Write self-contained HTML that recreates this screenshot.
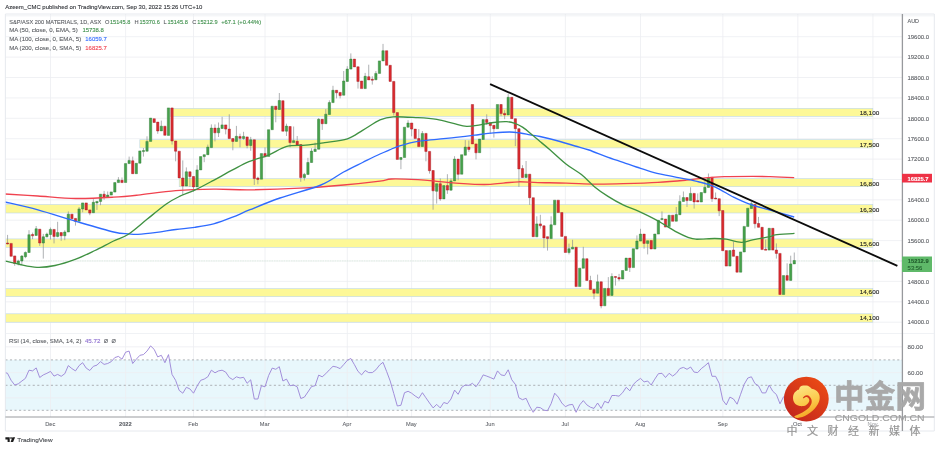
<!DOCTYPE html><html><head><meta charset="utf-8"><title>chart</title><style>html,body{margin:0;padding:0;background:#fff}body{width:940px;height:449px;overflow:hidden}</style></head><body><svg width="940" height="449" viewBox="0 0 940 449" style="display:block;will-change:transform;filter:blur(0.3px);font-family:'Liberation Sans',sans-serif">
<rect width="940" height="449" fill="#fff"/>
<rect x="5.4" y="359.9" width="897.1" height="50.4" fill="#e8f7fc"/>
<path d="M5.4 322.2H902.5M5.4 301.8H902.5M5.4 281.4H902.5M5.4 261.0H902.5M5.4 240.6H902.5M5.4 220.2H902.5M5.4 199.8H902.5M5.4 179.5H902.5M5.4 159.1H902.5M5.4 138.7H902.5M5.4 118.3H902.5M5.4 97.9H902.5M5.4 77.5H902.5M5.4 57.1H902.5M5.4 36.7H902.5M5.4 346.8H902.5M5.4 372.6H902.5M5.4 397.8H902.5M50.5 14.0V417.0M125.6 14.0V417.0M193.5 14.0V417.0M265.0 14.0V417.0M347.3 14.0V417.0M411.6 14.0V417.0M490.3 14.0V417.0M565.4 14.0V417.0M640.5 14.0V417.0M722.8 14.0V417.0M797.8 14.0V417.0M872.9 14.0V417.0" stroke="#ecedf1" stroke-width="0.8" fill="none"/>
<rect x="170.5" y="108.3" width="702.3" height="8.1" fill="#fdf897" stroke="#bdd7ee" stroke-width="0.6"/>
<rect x="139.8" y="139.7" width="733.0" height="8.2" fill="#fdf897" stroke="#bdd7ee" stroke-width="0.6"/>
<rect x="179.2" y="178.6" width="693.6" height="8.1" fill="#fdf897" stroke="#bdd7ee" stroke-width="0.6"/>
<rect x="5.4" y="204.5" width="867.4" height="8.5" fill="#fdf897" stroke="#bdd7ee" stroke-width="0.6"/>
<rect x="5.4" y="238.9" width="867.4" height="8.5" fill="#fdf897" stroke="#bdd7ee" stroke-width="0.6"/>
<rect x="5.4" y="288.6" width="867.4" height="8.1" fill="#fdf897" stroke="#bdd7ee" stroke-width="0.6"/>
<rect x="5.4" y="313.8" width="867.4" height="8.4" fill="#fdf897" stroke="#bdd7ee" stroke-width="0.6"/>
<path d="M5.4 260.9H902.5" stroke="#a9d9af" stroke-width="0.55" stroke-dasharray="0.7 1.0" stroke-opacity="0.8" fill="none"/>
<path d="M7.55 234.9V244.4M14.70 255.9V265.8M18.28 259.7V265.4M21.85 255.0V264.6M25.43 251.4V258.2M29.01 230.2V252.5M32.58 232.6V239.2M36.16 226.0V235.5M39.73 229.2V245.9M43.31 233.9V258.6M46.89 232.6V237.3M50.46 227.5V239.6M54.04 229.4V243.4M57.61 221.8V237.3M61.19 232.6V240.8M64.77 230.2V240.2M68.34 211.4V232.0M75.49 218.4V225.6M79.07 207.0V221.2M82.65 202.9V212.3M89.80 209.9V215.2M93.37 199.1V212.7M96.95 201.4V209.9M100.53 194.2V205.2M104.10 190.9V199.8M107.68 191.5V197.2M118.41 177.1V182.6M121.98 177.5V182.6M129.13 156.6V163.6M132.71 156.6V173.7M143.44 148.0V156.6M147.01 136.3V151.2M157.74 122.1V133.8M161.32 120.6V131.0M172.05 107.9V144.6M175.62 141.0V161.3M182.77 160.4V195.5M186.35 167.4V186.0M189.93 171.8V186.9M193.50 176.5V191.7M197.08 165.2V186.9M204.23 154.7V162.2M207.81 144.6V154.7M211.38 124.4V147.7M214.96 124.4V141.4M218.53 122.5V137.0M222.11 116.8V128.5M225.69 124.9V134.4M229.26 114.3V138.6M232.84 138.6V150.3M236.41 125.9V141.4M239.99 133.7V147.3M243.57 131.8V139.8M247.14 136.9V148.3M250.72 136.9V150.8M254.29 139.8V185.0M257.87 176.7V184.3M265.02 147.3V156.8M275.75 106.2V122.3M279.33 93.0V109.5M286.48 123.7V136.0M290.05 126.5V147.3M293.63 126.5V142.6M297.21 136.0V144.9M300.78 144.5V181.8M304.36 172.9V180.5M307.93 157.8V174.4M311.51 148.3V162.5M315.09 142.6V151.5M318.66 118.0V149.2M322.24 119.3V129.9M325.81 109.1V123.7M329.39 100.3V114.5M332.97 85.8V102.6M336.54 90.3V98.4M340.12 92.4V98.4M343.69 71.0V95.2M347.27 66.2V81.4M350.85 53.4V69.1M358.00 66.8V88.6M365.15 72.9V88.6M368.73 64.7V79.9M372.30 76.3V84.6M375.88 71.0V79.9M383.03 43.9V60.9M393.76 81.4V115.5M400.91 157.5V169.2M408.06 120.2V127.2M411.64 123.0V136.3M418.79 129.1V146.5M422.37 131.0V146.5M425.94 133.4V161.3M429.52 151.4V173.6M433.09 170.5V209.7M436.67 183.7V203.6M440.25 178.4V200.8M447.40 174.2V193.9M450.97 178.4V190.2M454.55 156.2V180.9M458.13 159.1V180.3M465.28 140.1V155.2M468.85 140.5V151.8M476.01 143.9V159.4M486.73 114.3V124.9M490.31 122.8V133.8M493.89 125.3V137.6M501.04 104.5V116.2M504.61 110.2V119.2M508.19 94.1V114.9M515.34 118.7V146.1M518.92 128.7V186.9M522.49 165.2V177.5M526.07 161.0V177.5M529.65 174.2V204.9M536.80 216.3V236.7M540.37 214.8V228.6M543.95 225.8V248.1M547.53 236.7V250.6M551.10 216.3V238.6M568.98 243.6V254.4M572.56 239.8V249.1M583.29 246.8V268.2M590.44 275.8V289.4M594.01 289.4V299.2M597.59 274.6V293.2M601.17 281.8V308.3M608.32 277.1V295.5M611.89 273.3V295.5M615.47 276.5V285.6M619.05 273.9V281.2M629.77 258.1V272.0M636.93 235.4V249.1M640.50 228.8V241.1M644.08 234.1V248.7M647.65 240.7V254.4M661.96 211.4V220.3M676.26 207.0V221.2M679.84 195.3V214.6M683.41 191.5V201.4M686.99 197.6V207.0M690.57 187.3V200.6M694.14 193.4V208.6M697.72 193.4V201.9M704.87 181.1V192.8M708.45 173.5V187.3M712.02 177.3V201.9M715.60 192.5V199.1M719.17 198.7V216.1M733.48 241.5V256.3M751.36 201.9V208.6M754.93 204.4V228.4M758.51 216.9V227.3M765.66 239.6V250.0M776.39 243.4V258.6M787.12 263.3V280.3M790.69 255.7V280.3M794.27 252.5V263.9" stroke="#8d8f93" stroke-width="0.7" fill="none"/>
<path d="M17.13 261.0h2.3v2.8h-2.3zM20.70 256.1h2.3v4.9h-2.3zM24.28 252.5h2.3v4.2h-2.3zM27.86 234.7h2.3v17.8h-2.3zM35.01 228.8h2.3v6.6h-2.3zM42.16 236.8h2.3v6.2h-2.3zM45.74 234.1h2.3v2.7h-2.3zM49.31 229.4h2.3v5.1h-2.3zM56.46 232.6h2.3v3.8h-2.3zM63.62 232.0h2.3v3.8h-2.3zM67.19 214.2h2.3v17.8h-2.3zM77.92 208.9h2.3v12.3h-2.3zM81.50 202.9h2.3v6.1h-2.3zM92.22 202.3h2.3v10.4h-2.3zM95.80 201.4h2.3v1.5h-2.3zM99.38 194.2h2.3v7.2h-2.3zM106.53 195.1h2.3v2.1h-2.3zM110.10 191.9h2.3v3.2h-2.3zM113.68 182.6h2.3v9.5h-2.3zM117.26 179.9h2.3v2.7h-2.3zM124.41 163.6h2.3v18.9h-2.3zM127.98 160.4h2.3v3.2h-2.3zM135.14 163.3h2.3v10.4h-2.3zM138.71 150.9h2.3v12.3h-2.3zM142.29 150.5h2.3v1.1h-2.3zM145.86 141.4h2.3v9.8h-2.3zM149.44 118.1h2.3v23.3h-2.3zM160.17 126.2h2.3v4.7h-2.3zM167.32 107.9h2.3v27.5h-2.3zM185.20 171.8h2.3v14.2h-2.3zM195.93 169.9h2.3v17.0h-2.3zM199.50 156.6h2.3v13.3h-2.3zM203.08 154.7h2.3v1.9h-2.3zM206.66 147.1h2.3v7.6h-2.3zM210.23 128.1h2.3v19.5h-2.3zM217.38 128.1h2.3v4.7h-2.3zM220.96 124.9h2.3v3.6h-2.3zM235.26 136.3h2.3v5.1h-2.3zM242.42 136.4h2.3v2.1h-2.3zM249.57 139.8h2.3v5.7h-2.3zM260.30 153.6h2.3v25.6h-2.3zM267.45 129.7h2.3v26.7h-2.3zM271.02 106.2h2.3v23.5h-2.3zM278.18 100.5h2.3v9.0h-2.3zM285.33 126.1h2.3v5.1h-2.3zM292.48 140.7h2.3v1.9h-2.3zM303.21 174.4h2.3v3.2h-2.3zM306.78 162.5h2.3v11.9h-2.3zM310.36 151.1h2.3v11.4h-2.3zM313.94 149.2h2.3v2.3h-2.3zM317.51 119.3h2.3v29.9h-2.3zM324.66 114.2h2.3v9.5h-2.3zM328.24 102.6h2.3v11.9h-2.3zM331.82 90.3h2.3v12.3h-2.3zM342.54 81.0h2.3v14.2h-2.3zM346.12 69.1h2.3v12.3h-2.3zM349.70 59.1h2.3v10.0h-2.3zM364.00 76.3h2.3v12.3h-2.3zM374.73 73.4h2.3v6.4h-2.3zM378.30 60.9h2.3v12.5h-2.3zM381.88 50.7h2.3v10.2h-2.3zM399.76 157.5h2.3v1.9h-2.3zM403.34 127.2h2.3v30.3h-2.3zM406.91 123.0h2.3v4.2h-2.3zM421.22 133.4h2.3v13.1h-2.3zM435.52 183.7h2.3v7.6h-2.3zM442.67 185.6h2.3v13.3h-2.3zM449.82 180.9h2.3v9.3h-2.3zM453.40 159.1h2.3v21.8h-2.3zM460.55 154.7h2.3v19.5h-2.3zM464.13 147.1h2.3v8.1h-2.3zM478.43 139.1h2.3v13.6h-2.3zM482.01 119.6h2.3v19.9h-2.3zM496.31 104.5h2.3v24.2h-2.3zM507.04 97.3h2.3v17.6h-2.3zM524.92 174.2h2.3v3.2h-2.3zM535.65 223.9h2.3v12.9h-2.3zM549.95 224.8h2.3v13.8h-2.3zM553.53 200.2h2.3v24.6h-2.3zM567.83 248.7h2.3v3.8h-2.3zM571.41 247.2h2.3v1.9h-2.3zM578.56 268.2h2.3v18.4h-2.3zM582.14 258.7h2.3v9.5h-2.3zM596.44 281.8h2.3v11.4h-2.3zM603.59 288.4h2.3v17.4h-2.3zM610.74 276.5h2.3v18.9h-2.3zM621.47 270.5h2.3v8.5h-2.3zM625.05 258.1h2.3v12.3h-2.3zM632.20 248.7h2.3v18.9h-2.3zM635.78 241.1h2.3v8.0h-2.3zM639.35 234.1h2.3v7.0h-2.3zM646.50 240.7h2.3v2.7h-2.3zM653.66 234.0h2.3v15.0h-2.3zM657.23 220.3h2.3v13.8h-2.3zM660.81 218.6h2.3v0.9h-2.3zM667.96 215.2h2.3v11.4h-2.3zM675.11 214.6h2.3v6.6h-2.3zM678.69 201.4h2.3v13.3h-2.3zM682.26 197.6h2.3v3.8h-2.3zM689.42 193.4h2.3v7.2h-2.3zM700.14 192.5h2.3v9.5h-2.3zM703.72 187.3h2.3v5.5h-2.3zM707.30 177.9h2.3v9.5h-2.3zM728.75 250.6h2.3v15.5h-2.3zM739.48 251.9h2.3v20.3h-2.3zM743.06 226.4h2.3v25.6h-2.3zM746.63 208.2h2.3v18.4h-2.3zM750.21 203.8h2.3v4.7h-2.3zM768.09 228.3h2.3v21.8h-2.3zM782.39 275.6h2.3v18.9h-2.3zM789.54 263.9h2.3v16.5h-2.3zM793.12 260.5h2.3v3.4h-2.3z" fill="#46a24b" stroke="#2f7a36" stroke-width="0.45"/>
<path d="M6.40 243.0h2.3v0.9h-2.3zM9.98 243.4h2.3v12.9h-2.3zM13.55 255.9h2.3v7.6h-2.3zM31.43 234.5h2.3v1.3h-2.3zM38.58 229.2h2.3v13.8h-2.3zM52.89 229.4h2.3v7.0h-2.3zM60.04 232.6h2.3v3.2h-2.3zM70.77 214.2h2.3v4.5h-2.3zM74.34 218.4h2.3v2.8h-2.3zM85.07 202.9h2.3v7.0h-2.3zM88.65 209.9h2.3v3.2h-2.3zM102.95 194.2h2.3v3.0h-2.3zM120.83 180.3h2.3v2.3h-2.3zM131.56 160.8h2.3v12.9h-2.3zM153.02 118.7h2.3v3.8h-2.3zM156.59 122.1h2.3v8.9h-2.3zM163.74 126.2h2.3v9.1h-2.3zM170.90 107.9h2.3v33.1h-2.3zM174.47 141.0h2.3v10.2h-2.3zM178.05 151.2h2.3v26.7h-2.3zM181.62 178.0h2.3v8.0h-2.3zM188.78 171.8h2.3v4.7h-2.3zM192.35 176.5h2.3v10.4h-2.3zM213.81 128.1h2.3v4.7h-2.3zM224.54 124.9h2.3v4.2h-2.3zM228.11 129.1h2.3v9.5h-2.3zM231.69 138.6h2.3v2.8h-2.3zM238.84 136.6h2.3v1.7h-2.3zM245.99 136.9h2.3v8.5h-2.3zM253.14 139.8h2.3v38.8h-2.3zM256.72 178.0h2.3v1.5h-2.3zM263.87 153.6h2.3v3.2h-2.3zM274.60 106.2h2.3v3.2h-2.3zM281.75 100.7h2.3v30.5h-2.3zM288.90 126.5h2.3v16.1h-2.3zM296.06 141.3h2.3v3.6h-2.3zM299.63 144.5h2.3v33.1h-2.3zM321.09 119.3h2.3v4.4h-2.3zM335.39 90.3h2.3v2.5h-2.3zM338.97 92.4h2.3v3.2h-2.3zM353.27 59.1h2.3v7.8h-2.3zM356.85 66.8h2.3v14.6h-2.3zM360.42 81.0h2.3v7.6h-2.3zM367.58 76.7h2.3v3.2h-2.3zM371.15 79.3h2.3v0.9h-2.3zM385.46 50.7h2.3v14.6h-2.3zM389.03 65.3h2.3v16.1h-2.3zM392.61 81.4h2.3v31.2h-2.3zM396.18 112.6h2.3v46.8h-2.3zM410.49 123.0h2.3v6.1h-2.3zM414.06 129.1h2.3v9.5h-2.3zM417.64 138.6h2.3v8.0h-2.3zM424.79 133.4h2.3v18.0h-2.3zM428.37 151.4h2.3v19.3h-2.3zM431.94 170.5h2.3v20.3h-2.3zM439.10 183.7h2.3v15.2h-2.3zM446.25 185.6h2.3v4.5h-2.3zM456.98 159.1h2.3v15.2h-2.3zM467.70 147.1h2.3v2.3h-2.3zM471.28 104.5h2.3v39.4h-2.3zM474.86 143.9h2.3v8.9h-2.3zM485.58 119.6h2.3v2.8h-2.3zM489.16 122.8h2.3v2.8h-2.3zM492.74 125.3h2.3v3.4h-2.3zM499.89 104.5h2.3v9.1h-2.3zM503.46 113.4h2.3v1.5h-2.3zM510.62 97.3h2.3v21.4h-2.3zM514.19 118.7h2.3v10.0h-2.3zM517.77 128.7h2.3v40.2h-2.3zM521.34 168.6h2.3v8.9h-2.3zM528.50 174.2h2.3v23.5h-2.3zM532.07 197.7h2.3v39.0h-2.3zM539.22 223.9h2.3v1.9h-2.3zM542.80 225.8h2.3v12.1h-2.3zM546.38 236.7h2.3v1.9h-2.3zM557.10 200.2h2.3v12.3h-2.3zM560.68 212.5h2.3v23.9h-2.3zM564.26 236.4h2.3v16.1h-2.3zM574.98 247.2h2.3v39.4h-2.3zM585.71 258.7h2.3v21.8h-2.3zM589.29 280.5h2.3v8.9h-2.3zM592.86 289.4h2.3v3.8h-2.3zM600.02 281.8h2.3v24.1h-2.3zM607.17 288.4h2.3v7.0h-2.3zM614.32 276.5h2.3v0.9h-2.3zM617.90 277.5h2.3v1.5h-2.3zM628.62 258.1h2.3v9.5h-2.3zM642.93 234.1h2.3v9.3h-2.3zM650.08 240.5h2.3v8.5h-2.3zM664.38 219.0h2.3v8.1h-2.3zM671.54 215.2h2.3v6.1h-2.3zM685.84 197.6h2.3v3.0h-2.3zM692.99 193.4h2.3v8.5h-2.3zM696.57 200.6h2.3v1.3h-2.3zM710.87 177.3h2.3v21.4h-2.3zM714.45 198.1h2.3v0.9h-2.3zM718.02 198.7h2.3v12.1h-2.3zM721.60 210.5h2.3v40.2h-2.3zM725.18 250.6h2.3v15.5h-2.3zM732.33 250.0h2.3v6.3h-2.3zM735.90 256.3h2.3v15.9h-2.3zM753.78 204.4h2.3v19.3h-2.3zM757.36 223.5h2.3v3.8h-2.3zM760.94 227.3h2.3v22.3h-2.3zM764.51 249.3h2.3v0.9h-2.3zM771.66 228.3h2.3v21.8h-2.3zM775.24 250.0h2.3v3.4h-2.3zM778.82 253.4h2.3v41.1h-2.3zM785.97 275.6h2.3v4.7h-2.3z" fill="#dc2a2f" stroke="#a31d24" stroke-width="0.45"/>
<path d="M5.0 194.0C10.5 194.3 26.1 195.2 37.9 196.0C49.7 196.8 63.2 198.3 75.8 198.5C88.4 198.7 103.2 197.8 113.6 197.2C123.9 196.6 127.5 196.2 137.9 195.1C148.3 194.0 163.2 191.7 175.8 190.7C188.4 189.7 201.2 189.3 213.6 189.2C226.0 189.0 235.6 190.0 250.0 189.8C264.4 189.6 284.4 189.0 300.0 188.2C315.6 187.4 330.3 186.2 343.6 185.0C356.9 183.8 372.0 182.1 380.0 181.1C388.0 180.1 385.1 179.2 391.4 179.0C397.7 178.8 410.3 179.3 417.9 179.7C425.5 180.1 430.5 180.7 436.8 181.3C443.1 181.9 447.9 182.6 455.8 183.1C463.7 183.6 476.3 184.5 484.2 184.5C492.1 184.5 497.3 183.5 503.1 183.1C508.9 182.7 513.1 181.9 518.9 181.8C524.7 181.7 530.0 182.4 537.9 182.6C545.8 182.8 556.8 182.8 566.3 183.1C575.8 183.3 585.2 184.0 594.7 184.1C604.2 184.2 612.6 184.0 623.1 183.7C633.6 183.4 647.4 183.0 657.9 182.4C668.4 181.8 678.4 180.9 686.3 180.2C694.2 179.4 698.9 178.5 705.2 177.9C711.5 177.3 716.3 176.9 724.2 176.7C732.1 176.4 745.0 176.4 752.6 176.4C760.2 176.4 763.1 176.5 770.0 176.7C776.9 176.9 790.2 177.5 794.2 177.7" stroke="#f0424f" stroke-width="1.35" fill="none"/>
<path d="M5.0 202.0C10.5 203.3 26.1 206.7 37.9 209.9C49.7 213.1 63.2 217.6 75.8 221.3C88.4 225.0 104.8 229.9 113.6 232.0C122.4 234.1 124.4 233.4 128.4 233.8C132.5 234.2 133.2 234.5 137.9 234.3C142.6 234.1 150.5 233.2 156.8 232.4C163.1 231.6 169.5 230.3 175.8 229.5C182.1 228.7 188.4 228.2 194.7 227.3C201.0 226.4 207.3 225.6 213.6 223.9C219.9 222.2 226.5 219.6 232.6 217.2C238.7 214.8 242.1 212.9 250.0 209.7C257.9 206.5 268.2 202.1 280.0 198.0C291.8 193.9 310.3 189.3 320.9 185.0C331.5 180.7 336.7 175.8 343.6 172.0C350.6 168.2 356.5 165.5 362.6 162.5C368.7 159.5 375.5 156.1 380.0 154.0C384.5 151.9 386.4 151.2 389.5 149.9C392.6 148.6 394.2 147.5 398.9 146.1C403.6 144.7 411.6 142.5 417.9 141.4C424.2 140.3 430.5 140.0 436.8 139.3C443.1 138.6 449.5 138.1 455.8 137.4C462.1 136.7 468.4 135.9 474.7 135.2C481.0 134.4 487.8 133.4 493.6 132.9C499.4 132.4 505.1 132.0 509.5 132.0C513.9 132.0 516.8 132.5 520.2 133.0C523.6 133.5 526.7 134.2 530.0 134.8C533.3 135.4 535.0 135.4 540.0 136.5C545.0 137.6 554.2 139.9 560.0 141.5C565.8 143.1 570.2 144.6 575.0 146.0C579.8 147.4 583.8 148.2 589.0 150.0C594.2 151.8 600.4 154.5 606.1 156.6C611.8 158.7 618.1 160.6 623.1 162.3C628.1 164.0 631.2 165.3 636.4 167.0C641.6 168.7 647.4 170.9 654.1 172.6C660.8 174.3 669.8 175.9 676.8 177.3C683.8 178.7 689.5 179.5 695.8 181.1C702.1 182.7 708.4 184.1 714.7 186.8C721.0 189.5 727.9 194.4 733.6 197.2C739.3 200.0 742.7 201.7 748.8 203.8C754.9 206.0 762.4 207.9 770.0 210.1C777.6 212.3 790.2 215.8 794.2 217.0" stroke="#2f6bff" stroke-width="1.35" fill="none"/>
<path d="M5.0 261.0C7.5 261.6 14.7 263.4 20.0 264.5C25.3 265.6 31.2 267.1 37.0 267.3C42.8 267.5 48.5 266.9 55.0 265.5C61.5 264.1 69.1 261.6 75.8 259.1C82.5 256.6 88.7 253.5 95.0 250.5C101.3 247.5 108.0 243.7 113.6 241.0C119.2 238.3 122.8 238.0 128.4 234.3C134.0 230.7 141.0 224.2 147.3 219.1C153.6 214.0 160.9 207.8 166.3 204.0C171.7 200.2 174.8 198.7 179.5 196.4C184.2 194.1 189.0 192.9 194.7 190.2C200.4 187.5 207.3 183.7 213.6 180.3C219.9 176.9 226.7 173.0 232.6 169.9C238.5 166.8 243.0 164.0 248.9 161.6C254.8 159.2 261.6 157.8 267.9 155.3C274.2 152.8 280.5 148.1 286.8 146.4C293.1 144.7 299.5 145.7 305.8 145.1C312.1 144.5 317.8 143.6 324.7 142.6C331.6 141.6 341.1 140.9 347.4 138.8C353.7 136.8 357.2 133.5 362.6 130.3C368.0 127.2 374.9 122.2 380.0 119.9C385.1 117.7 387.0 117.2 393.3 116.8C399.6 116.4 410.6 117.3 417.9 117.7C425.1 118.1 430.9 118.5 436.8 119.4C442.7 120.4 448.4 122.2 453.4 123.4C458.4 124.6 462.2 126.2 466.7 126.4C471.1 126.6 475.6 125.5 480.1 124.8C484.6 124.1 489.1 123.0 493.5 122.5C497.9 122.0 503.2 121.5 506.8 121.7C510.4 121.9 512.2 122.5 514.9 123.4C517.6 124.4 519.8 125.3 522.9 127.4C526.0 129.5 530.8 133.8 533.6 136.1C536.5 138.4 537.2 139.2 540.0 141.5C542.8 143.8 545.8 146.2 550.2 150.0C554.6 153.8 561.1 160.1 566.3 164.2C571.5 168.3 576.7 170.8 581.4 174.6C586.1 178.4 590.3 183.3 594.7 186.9C599.1 190.5 603.3 193.4 608.0 196.4C612.7 199.4 618.0 202.4 623.1 204.9C628.2 207.4 633.1 208.7 638.9 211.4C644.7 214.1 651.6 217.4 657.9 220.9C664.2 224.4 671.8 229.5 676.8 232.2C681.8 234.9 684.8 236.1 688.0 237.3C691.2 238.5 691.3 239.0 695.8 239.2C700.2 239.4 709.7 238.5 714.7 238.5C719.8 238.5 721.7 238.6 726.1 239.2C730.5 239.8 736.8 242.2 741.2 242.3C745.6 242.4 747.8 240.8 752.6 239.8C757.4 238.9 766.2 237.4 770.0 236.6C773.8 235.8 771.1 235.4 775.2 234.9C779.3 234.4 791.3 233.7 794.5 233.4" stroke="#3f9142" stroke-width="1.35" fill="none"/>
<path d="M490.1 84.1L897.4 265.8" stroke="#0b0b0b" stroke-width="1.85" fill="none"/>
<path d="M5.4 359.9H902.5M5.4 385.3H902.5M5.4 410.3H902.5" stroke="#9d9fa3" stroke-width="0.8" stroke-dasharray="2.1 2.45" fill="none"/>
<path d="M5.4 372.7L7.5 373.3L11.1 380.3L14.7 385.0L18.3 383.8L21.9 381.0L25.4 378.4L29.0 370.2L32.6 370.9L36.2 367.9L39.7 377.5L43.3 374.9L46.9 373.3L50.5 371.4L54.0 376.1L57.6 374.4L61.2 376.3L64.8 373.7L68.3 365.6L71.9 368.6L75.5 370.9L79.1 365.6L82.6 362.7L86.2 368.1L89.8 370.5L93.4 366.3L97.0 365.1L100.5 361.6L104.1 364.4L107.7 363.5L111.3 361.6L114.8 357.6L118.4 356.4L122.0 359.2L125.6 352.2L129.1 351.1L132.7 363.5L136.3 359.2L139.9 355.3L143.4 354.6L147.0 351.1L150.6 345.9L154.2 349.4L157.7 356.9L161.3 355.3L164.9 362.7L168.5 354.6L172.0 374.4L175.6 380.3L179.2 390.4L182.8 393.2L186.4 387.3L189.9 388.9L193.5 393.2L197.1 386.1L200.7 380.3L204.2 379.1L207.8 376.8L211.4 370.2L215.0 372.8L218.5 370.9L222.1 370.2L225.7 372.1L229.3 377.5L232.8 379.6L236.4 376.8L240.0 378.0L243.6 377.3L247.1 383.3L250.7 379.8L254.3 399.0L257.9 399.0L261.4 385.7L265.0 386.8L268.6 375.6L272.2 368.1L275.8 369.3L279.3 366.7L282.9 381.0L286.5 379.1L290.1 385.7L293.6 385.0L297.2 386.8L300.8 398.5L304.4 397.1L307.9 392.0L311.5 386.6L315.1 385.7L318.7 375.1L322.2 376.8L325.8 373.7L329.4 369.8L333.0 366.3L336.5 367.0L340.1 368.6L343.7 364.6L347.3 360.4L350.8 358.5L354.4 364.6L358.0 371.4L361.6 374.9L365.2 370.5L368.7 372.6L372.3 372.6L375.9 369.8L379.5 365.1L383.0 362.3L386.6 371.4L390.2 381.0L393.8 393.6L397.3 406.0L400.9 405.3L404.5 392.7L408.1 391.3L411.6 393.2L415.2 396.0L418.8 398.3L422.4 392.7L425.9 397.8L429.5 403.0L433.1 407.9L436.7 404.4L440.2 407.9L443.8 402.5L447.4 403.7L451.0 399.0L454.6 390.1L458.1 394.3L461.7 387.3L465.3 385.0L468.9 385.4L472.4 383.3L476.0 386.8L479.6 381.5L483.2 374.9L486.7 376.1L490.3 377.5L493.9 379.1L497.5 370.9L501.0 374.9L504.6 375.6L508.2 369.8L511.8 379.8L515.3 384.3L518.9 397.8L522.5 399.7L526.1 398.3L529.6 406.0L533.2 412.3L536.8 407.2L540.4 407.7L543.9 410.2L547.5 410.7L551.1 403.7L554.7 393.2L558.3 397.1L561.8 403.0L565.4 406.7L569.0 404.9L572.6 404.4L576.1 412.3L579.7 404.9L583.3 400.6L586.9 404.9L590.4 407.2L594.0 408.4L597.6 403.0L601.2 408.4L604.7 401.3L608.3 403.0L611.9 395.5L615.5 395.5L619.0 396.2L622.6 392.7L626.2 387.3L629.8 390.8L633.4 384.3L636.9 381.0L640.5 378.4L644.1 381.9L647.7 381.0L651.2 385.0L654.8 379.1L658.4 373.7L662.0 373.3L665.5 377.5L669.1 373.3L672.7 376.1L676.3 373.3L679.8 368.6L683.4 367.4L687.0 369.3L690.6 367.0L694.1 372.1L697.7 372.6L701.3 368.6L704.9 365.8L708.4 362.7L712.0 376.3L715.6 376.3L719.2 383.3L722.8 400.2L726.3 404.9L729.9 397.1L733.5 399.0L737.1 404.2L740.6 394.3L744.2 384.3L747.8 378.0L751.4 376.8L754.9 383.5L758.5 385.9L762.1 392.9L765.7 392.9L769.2 385.1L772.8 391.3L776.4 394.5L780.0 403.8L783.5 396.8L787.1 397.5L790.7 393.5L794.3 390.7" stroke="#9a82d6" stroke-width="0.9" stroke-linejoin="round" fill="none"/>
<path d="M5.4 14.0H934.3V431.0H5.4Z" stroke="#e3e6ec" stroke-width="0.9" fill="none"/>
<path d="M5.4 15.8H934.3M5.4 333.5H934.3" stroke="#eceff3" stroke-width="0.8" fill="none"/>
<path d="M902.4 14.0V431.0" stroke="#97999d" stroke-width="1.3" fill="none"/>
<path d="M5.4 417.0H934.3" stroke="#9a9ca0" stroke-width="1.2" fill="none"/>
<text x="5.3" y="9.1" font-size="5.80" fill="#303338" stroke="#303338" stroke-width="0.10" textLength="197.0" lengthAdjust="spacingAndGlyphs">Azeem_CMC published on TradingView.com, Sep 30, 2022 15:26 UTC+10</text>
<text x="9.2" y="24.0" font-size="5.70" fill="#5c5f64" stroke="#5c5f64" stroke-width="0.10" textLength="92.1" lengthAdjust="spacingAndGlyphs">S&amp;P/ASX 200 MATERIALS, 1D, ASX</text>
<text x="105.0" y="24.0" font-size="5.70" fill="#5c5f64" stroke="#5c5f64" stroke-width="0.10">O</text>
<text x="110.0" y="24.0" font-size="5.70" fill="#3d8f4a" stroke="#3d8f4a" stroke-width="0.10" textLength="20.3" lengthAdjust="spacingAndGlyphs">15145.8</text>
<text x="134.5" y="24.0" font-size="5.70" fill="#5c5f64" stroke="#5c5f64" stroke-width="0.10">H</text>
<text x="139.5" y="24.0" font-size="5.70" fill="#3d8f4a" stroke="#3d8f4a" stroke-width="0.10" textLength="20.3" lengthAdjust="spacingAndGlyphs">15370.6</text>
<text x="163.5" y="24.0" font-size="5.70" fill="#5c5f64" stroke="#5c5f64" stroke-width="0.10">L</text>
<text x="167.5" y="24.0" font-size="5.70" fill="#3d8f4a" stroke="#3d8f4a" stroke-width="0.10" textLength="20.3" lengthAdjust="spacingAndGlyphs">15145.8</text>
<text x="192.3" y="24.0" font-size="5.70" fill="#5c5f64" stroke="#5c5f64" stroke-width="0.10">C</text>
<text x="197.3" y="24.0" font-size="5.70" fill="#3d8f4a" stroke="#3d8f4a" stroke-width="0.10" textLength="20.3" lengthAdjust="spacingAndGlyphs">15212.9</text>
<text x="221.2" y="24.0" font-size="5.70" fill="#3d8f4a" stroke="#3d8f4a" stroke-width="0.10" textLength="39.9" lengthAdjust="spacingAndGlyphs">+67.1 (+0.44%)</text>
<text x="9.2" y="32.3" font-size="5.70" fill="#5c5f64" stroke="#5c5f64" stroke-width="0.10" textLength="68.5" lengthAdjust="spacingAndGlyphs">MA (50, close, 0, EMA, 5)</text>
<text x="82.4" y="32.3" font-size="5.70" fill="#3d8f4a" stroke="#3d8f4a" stroke-width="0.10" textLength="21.4" lengthAdjust="spacingAndGlyphs">15738.8</text>
<text x="9.2" y="41.1" font-size="5.70" fill="#5c5f64" stroke="#5c5f64" stroke-width="0.10" textLength="72.0" lengthAdjust="spacingAndGlyphs">MA (100, close, 0, EMA, 5)</text>
<text x="85.3" y="41.1" font-size="5.70" fill="#2f6bff" stroke="#2f6bff" stroke-width="0.10" textLength="21.5" lengthAdjust="spacingAndGlyphs">16059.7</text>
<text x="9.2" y="49.6" font-size="5.70" fill="#5c5f64" stroke="#5c5f64" stroke-width="0.10" textLength="72.0" lengthAdjust="spacingAndGlyphs">MA (200, close, 0, SMA, 5)</text>
<text x="85.3" y="49.6" font-size="5.70" fill="#f0424f" stroke="#f0424f" stroke-width="0.10" textLength="21.5" lengthAdjust="spacingAndGlyphs">16825.7</text>
<text x="8.9" y="343.3" font-size="5.70" fill="#5c5f64" stroke="#5c5f64" stroke-width="0.10" textLength="72.5" lengthAdjust="spacingAndGlyphs">RSI (14, close, SMA, 14, 2)</text>
<text x="84.9" y="343.3" font-size="5.70" fill="#8e6fd0" stroke="#8e6fd0" stroke-width="0.10" textLength="15.5" lengthAdjust="spacingAndGlyphs">45.72</text>
<text x="103.8" y="343.3" font-size="5.60" fill="#5a5d63" stroke="#5a5d63" stroke-width="0.10">&#216;</text>
<text x="111.6" y="343.3" font-size="5.60" fill="#5a5d63" stroke="#5a5d63" stroke-width="0.10">&#216;</text>
<text x="907.5" y="23.0" font-size="5.70" fill="#5c5f64" stroke="#5c5f64" stroke-width="0.10" textLength="11.5" lengthAdjust="spacingAndGlyphs">AUD</text>
<text x="907.5" y="324.4" font-size="5.70" fill="#5c5f64" stroke="#5c5f64" stroke-width="0.10" textLength="21.5" lengthAdjust="spacingAndGlyphs">14000.0</text>
<text x="907.5" y="304.0" font-size="5.70" fill="#5c5f64" stroke="#5c5f64" stroke-width="0.10" textLength="21.5" lengthAdjust="spacingAndGlyphs">14400.0</text>
<text x="907.5" y="283.6" font-size="5.70" fill="#5c5f64" stroke="#5c5f64" stroke-width="0.10" textLength="21.5" lengthAdjust="spacingAndGlyphs">14800.0</text>
<text x="907.5" y="242.8" font-size="5.70" fill="#5c5f64" stroke="#5c5f64" stroke-width="0.10" textLength="21.5" lengthAdjust="spacingAndGlyphs">15600.0</text>
<text x="907.5" y="222.4" font-size="5.70" fill="#5c5f64" stroke="#5c5f64" stroke-width="0.10" textLength="21.5" lengthAdjust="spacingAndGlyphs">16000.0</text>
<text x="907.5" y="202.0" font-size="5.70" fill="#5c5f64" stroke="#5c5f64" stroke-width="0.10" textLength="21.5" lengthAdjust="spacingAndGlyphs">16400.0</text>
<text x="907.5" y="161.3" font-size="5.70" fill="#5c5f64" stroke="#5c5f64" stroke-width="0.10" textLength="21.5" lengthAdjust="spacingAndGlyphs">17200.0</text>
<text x="907.5" y="140.9" font-size="5.70" fill="#5c5f64" stroke="#5c5f64" stroke-width="0.10" textLength="21.5" lengthAdjust="spacingAndGlyphs">17600.0</text>
<text x="907.5" y="120.5" font-size="5.70" fill="#5c5f64" stroke="#5c5f64" stroke-width="0.10" textLength="21.5" lengthAdjust="spacingAndGlyphs">18000.0</text>
<text x="907.5" y="100.1" font-size="5.70" fill="#5c5f64" stroke="#5c5f64" stroke-width="0.10" textLength="21.5" lengthAdjust="spacingAndGlyphs">18400.0</text>
<text x="907.5" y="79.7" font-size="5.70" fill="#5c5f64" stroke="#5c5f64" stroke-width="0.10" textLength="21.5" lengthAdjust="spacingAndGlyphs">18800.0</text>
<text x="907.5" y="59.3" font-size="5.70" fill="#5c5f64" stroke="#5c5f64" stroke-width="0.10" textLength="21.5" lengthAdjust="spacingAndGlyphs">19200.0</text>
<text x="907.5" y="38.9" font-size="5.70" fill="#5c5f64" stroke="#5c5f64" stroke-width="0.10" textLength="21.5" lengthAdjust="spacingAndGlyphs">19600.0</text>
<text x="907.5" y="349.0" font-size="5.70" fill="#5c5f64" stroke="#5c5f64" stroke-width="0.10" textLength="15.5" lengthAdjust="spacingAndGlyphs">80.00</text>
<text x="907.5" y="374.7" font-size="5.70" fill="#5c5f64" stroke="#5c5f64" stroke-width="0.10" textLength="15.5" lengthAdjust="spacingAndGlyphs">60.00</text>
<rect x="902.0" y="173.8" width="30" height="8.7" fill="#ee3246"/>
<text x="907.6" y="180.6" font-size="6.00" fill="#fff" stroke="#fff" stroke-width="0.10" textLength="21.0" lengthAdjust="spacingAndGlyphs" font-weight="bold">16825.7</text>
<rect x="902.0" y="256.5" width="30" height="15.5" fill="#5fb969"/>
<text x="907.8" y="263.2" font-size="6.00" fill="#1e5a2a" stroke="#1e5a2a" stroke-width="0.10" textLength="20.8" lengthAdjust="spacingAndGlyphs" font-weight="bold">15212.9</text>
<text x="907.6" y="270.4" font-size="5.80" fill="#21602d" stroke="#21602d" stroke-width="0.10" textLength="14.8" lengthAdjust="spacingAndGlyphs">53:56</text>
<text x="859.7" y="115.4" font-size="5.90" fill="#222" stroke="#222" stroke-width="0.10" textLength="19.6" lengthAdjust="spacingAndGlyphs">18,100</text>
<text x="859.7" y="146.9" font-size="5.90" fill="#222" stroke="#222" stroke-width="0.10" textLength="19.6" lengthAdjust="spacingAndGlyphs">17,500</text>
<text x="859.7" y="185.6" font-size="5.90" fill="#222" stroke="#222" stroke-width="0.10" textLength="19.6" lengthAdjust="spacingAndGlyphs">16,800</text>
<text x="859.7" y="211.6" font-size="5.90" fill="#222" stroke="#222" stroke-width="0.10" textLength="19.6" lengthAdjust="spacingAndGlyphs">16,300</text>
<text x="859.7" y="246.1" font-size="5.90" fill="#222" stroke="#222" stroke-width="0.10" textLength="19.6" lengthAdjust="spacingAndGlyphs">15,600</text>
<text x="859.7" y="293.9" font-size="5.90" fill="#222" stroke="#222" stroke-width="0.10" textLength="19.6" lengthAdjust="spacingAndGlyphs">14,600</text>
<text x="859.7" y="320.1" font-size="5.90" fill="#222" stroke="#222" stroke-width="0.10" textLength="19.6" lengthAdjust="spacingAndGlyphs">14,100</text>
<text x="50.2" y="426.0" font-size="5.70" fill="#5a5d63" stroke="#5a5d63" stroke-width="0.05" text-anchor="middle">Dec</text>
<text x="125.3" y="426.0" font-size="5.70" fill="#5a5d63" stroke="#5a5d63" stroke-width="0.05" text-anchor="middle" font-weight="bold">2022</text>
<text x="193.2" y="426.0" font-size="5.70" fill="#5a5d63" stroke="#5a5d63" stroke-width="0.05" text-anchor="middle">Feb</text>
<text x="264.7" y="426.0" font-size="5.70" fill="#5a5d63" stroke="#5a5d63" stroke-width="0.05" text-anchor="middle">Mar</text>
<text x="347.0" y="426.0" font-size="5.70" fill="#5a5d63" stroke="#5a5d63" stroke-width="0.05" text-anchor="middle">Apr</text>
<text x="411.3" y="426.0" font-size="5.70" fill="#5a5d63" stroke="#5a5d63" stroke-width="0.05" text-anchor="middle">May</text>
<text x="490.0" y="426.0" font-size="5.70" fill="#5a5d63" stroke="#5a5d63" stroke-width="0.05" text-anchor="middle">Jun</text>
<text x="565.1" y="426.0" font-size="5.70" fill="#5a5d63" stroke="#5a5d63" stroke-width="0.05" text-anchor="middle">Jul</text>
<text x="640.2" y="426.0" font-size="5.70" fill="#5a5d63" stroke="#5a5d63" stroke-width="0.05" text-anchor="middle">Aug</text>
<text x="722.5" y="426.0" font-size="5.70" fill="#5a5d63" stroke="#5a5d63" stroke-width="0.05" text-anchor="middle">Sep</text>
<text x="797.5" y="426.0" font-size="5.70" fill="#5a5d63" stroke="#5a5d63" stroke-width="0.05" text-anchor="middle">Oct</text>
<text x="872.6" y="426.0" font-size="5.70" fill="#a4a6aa" stroke="#a4a6aa" stroke-width="0.05" text-anchor="middle">Nov</text>
<path d="M5.4 437.3h4.3v4.6h-2.1v-2.5h-2.2zM10.3 437.3h1.5v1.5h-1.5zM12.4 437.3h2.7l-2 4.6h-2.5z" fill="#1c1c1c"/>
<text x="17.2" y="442.0" font-size="6.00" fill="#44474c" stroke="#44474c" stroke-width="0.10" textLength="35.4" lengthAdjust="spacingAndGlyphs">TradingView</text>
<defs><linearGradient id="lg1" x1="0.85" y1="0.1" x2="0.15" y2="0.9"><stop offset="0" stop-color="#ea4a15"/><stop offset="1" stop-color="#c3261d"/></linearGradient><linearGradient id="lg2" x1="0.3" y1="0" x2="0.6" y2="1"><stop offset="0" stop-color="#fde684"/><stop offset="0.55" stop-color="#fbc94a"/><stop offset="1" stop-color="#f4a01f"/></linearGradient></defs>
<circle cx="806.3" cy="399.05" r="22.4" fill="url(#lg1)"/>
<path d="M794.35 416.53C794.21 417.09 795.97 417.87 797.31 417.97C798.65 418.07 800.69 417.69 802.39 417.12C804.08 416.56 805.77 415.64 807.47 414.58C809.16 413.53 811.06 412.11 812.54 410.77C814.02 409.43 815.29 408.02 816.35 406.54C817.41 405.06 818.33 403.37 818.89 401.89C819.45 400.41 819.74 399.00 819.74 397.66C819.74 396.32 819.38 394.98 818.89 393.85C818.40 392.72 817.62 391.66 816.77 390.89C815.93 390.11 814.66 389.55 813.81 389.19C812.97 388.84 812.30 389.09 811.70 388.77C811.09 388.45 810.81 387.74 810.17 387.25C809.54 386.75 808.76 386.12 807.89 385.81C807.01 385.50 805.91 385.39 804.93 385.39C803.94 385.39 802.81 385.50 801.96 385.81C801.12 386.12 800.37 386.61 799.85 387.25C799.33 387.88 799.33 389.08 798.83 389.62C798.34 390.15 797.59 389.97 796.89 390.46C796.18 390.96 795.21 391.73 794.60 392.58C793.99 393.43 793.50 394.48 793.25 395.54C792.99 396.60 792.94 397.80 793.08 398.93C793.22 400.05 793.53 401.32 794.09 402.31C794.66 403.30 795.50 404.22 796.46 404.85C797.42 405.49 798.65 405.91 799.85 406.12C801.05 406.33 802.60 406.30 803.66 406.12C804.71 405.94 805.42 405.54 806.20 405.02C806.97 404.50 807.79 403.69 808.31 402.99C808.83 402.28 809.26 401.54 809.33 400.79C809.40 400.04 809.07 399.10 808.73 398.50C808.40 397.91 807.86 397.45 807.30 397.23C806.73 397.02 805.91 397.06 805.35 397.23C804.79 397.40 804.32 398.16 803.91 398.25C803.50 398.33 802.80 398.12 802.90 397.74C802.99 397.36 803.81 396.36 804.50 395.96C805.19 395.57 806.20 395.30 807.04 395.37C807.89 395.44 808.88 395.79 809.58 396.39C810.29 396.98 810.92 398.01 811.27 398.93C811.63 399.84 811.77 400.90 811.70 401.89C811.63 402.88 811.27 403.93 810.85 404.85C810.43 405.77 809.93 406.54 809.16 407.39C808.38 408.24 807.32 409.08 806.20 409.93C805.07 410.77 803.73 411.69 802.39 412.47C801.05 413.24 799.50 413.91 798.16 414.58C796.82 415.26 794.49 415.97 794.35 416.53Z" fill="url(#lg2)"/>
<text x="834" y="407.3" font-size="30.5" font-weight="bold" fill="#a9a9a9" stroke="#a9a9a9" stroke-width="0.7" stroke-linejoin="round" textLength="92" lengthAdjust="spacing" style="font-family:'Liberation Sans','Noto Sans CJK SC',sans-serif">中金网</text>
<text x="786.4" y="435" font-size="11" fill="#949494" stroke="#949494" stroke-width="0.15" letter-spacing="9.5" style="font-family:'Liberation Sans','Noto Sans CJK SC',sans-serif">中文财经新媒体</text>
<text x="834.8" y="420.6" font-size="8.90" fill="#9d9d9d" stroke="#9d9d9d" stroke-width="0.10" textLength="89.8" lengthAdjust="spacingAndGlyphs">CNGOLD.COM.CN</text>
</svg></body></html>
